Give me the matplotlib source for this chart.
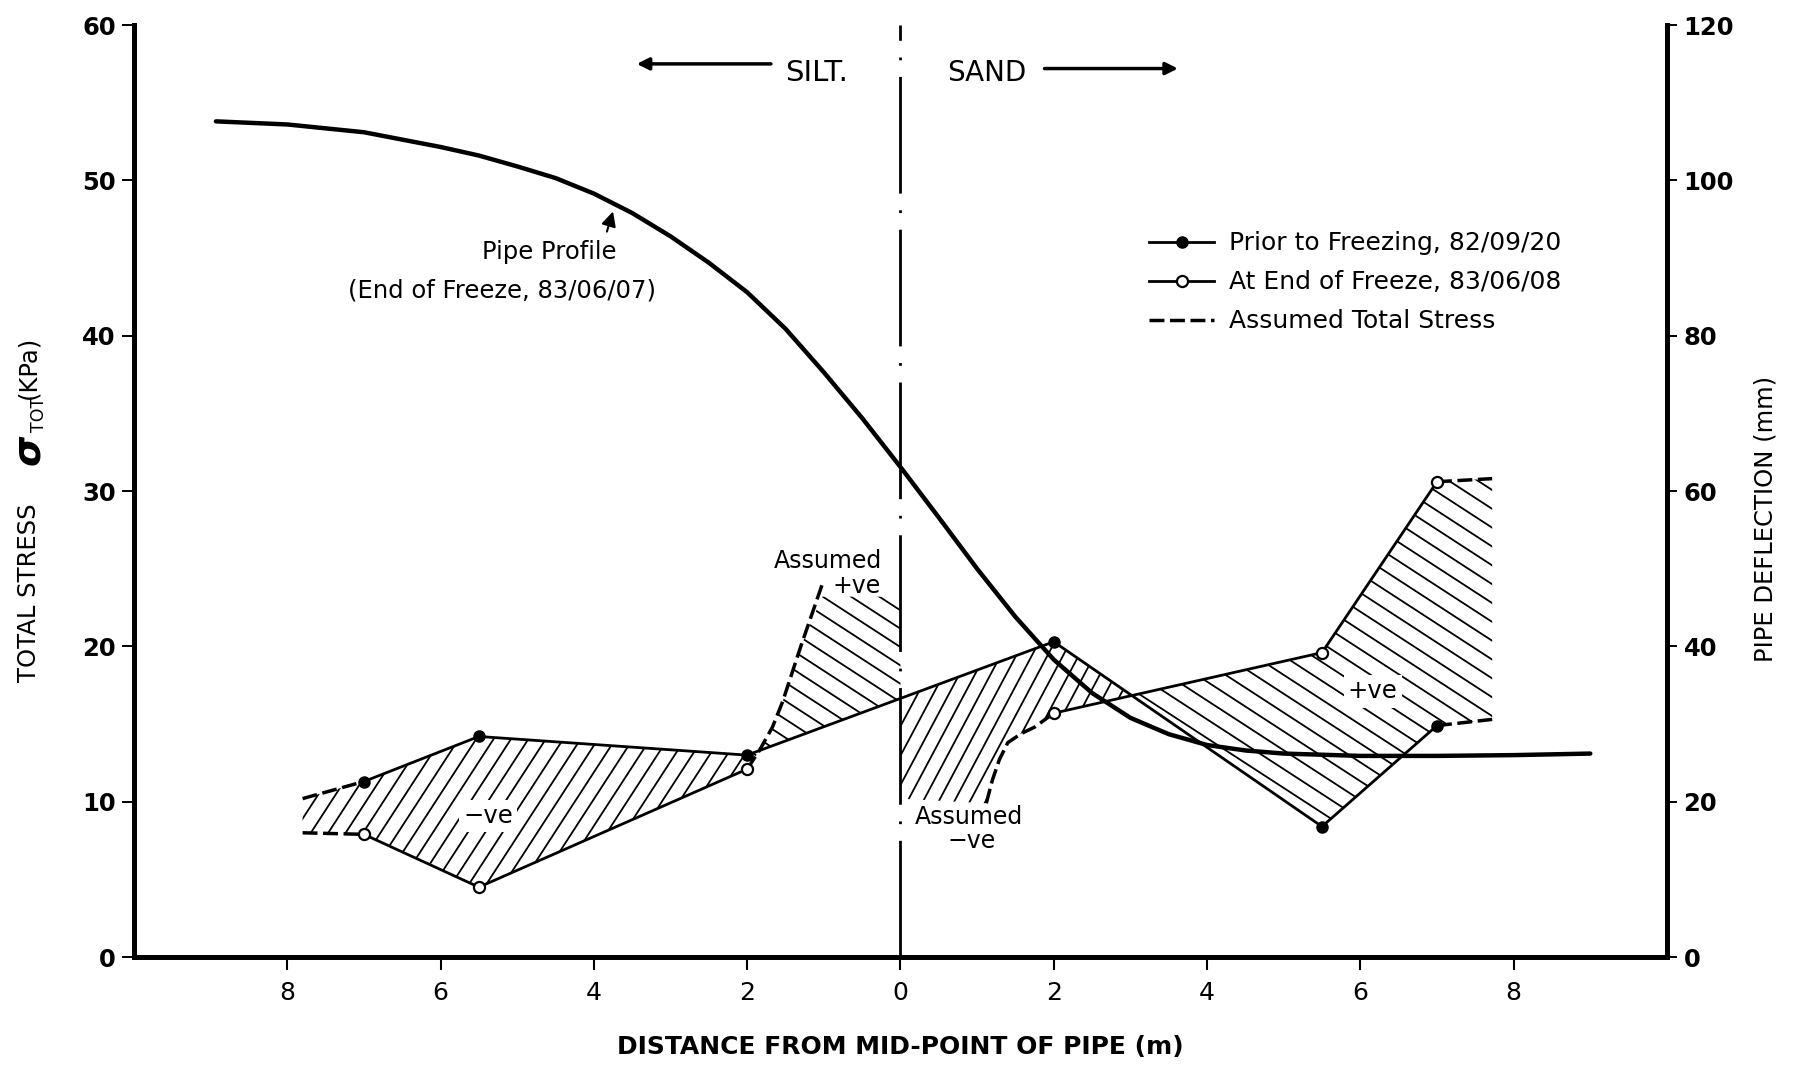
import numpy as np
import matplotlib
matplotlib.use("Agg")
import matplotlib.pyplot as plt
from matplotlib.collections import LineCollection

plt.rcParams["font.family"] = ["DejaVu Sans"]

# total stress (kPa) at distance from mid-point of pipe (m), silt side negative
dist = [-7.0, -5.5, -2.0, 2.0, 5.5, 7.0]
prior = [11.3, 14.2, 13.0, 20.3, 8.4, 14.9]
end_freeze = [7.9, 4.5, 12.1, 15.7, 19.6, 30.6]

# assumed total stress beyond the measured points
ext_left_x = [-7.8, -7.0]
ext_left_prior = [10.2, 11.3]
ext_left_end = [8.0, 7.9]
ext_right_x = [7.0, 7.72]
ext_right_prior = [14.9, 15.3]
ext_right_end = [30.6, 30.8]

# assumed stress at end of freeze on either side of the soil boundary
plus_x = [-2.0, -1.84, -1.67, -1.54, -1.3, -1.02]
plus_y = [12.1, 13.3, 14.8, 16.4, 20.0, 24.0]
plus_cap = 23.2
minus_x = [1.12, 1.2, 1.29, 1.4, 1.58, 1.75, 2.0]
minus_y = [9.9, 11.4, 12.7, 13.8, 14.4, 14.8, 15.7]
minus_floor = 10.2

# pipe profile at end of freeze: deflection (mm)
pipe_x = [-8.93, -8.0, -7.0, -6.0, -5.5, -5.0, -4.5, -4.0, -3.5, -3.0, -2.5,
          -2.0, -1.5, -1.0, -0.5, 0.0, 0.5, 1.0, 1.5, 2.0, 2.5, 3.0, 3.5,
          4.0, 4.5, 5.0, 6.0, 7.0, 8.0, 9.0]
pipe_defl = [107.6, 107.2, 106.2, 104.3, 103.2, 101.8, 100.3, 98.3, 95.8,
             92.8, 89.4, 85.6, 80.9, 75.3, 69.4, 63.1, 56.6, 50.0, 43.8, 38.3,
             34.0, 30.8, 28.7, 27.3, 26.6, 26.2, 25.9, 25.9, 26.0, 26.2]

xticks = [-8, -6, -4, -2, 0, 2, 4, 6, 8]

fig = plt.figure(figsize=(17.98, 10.66), dpi=100)
ax = fig.add_axes([0.0745, 0.1022, 0.8526, 0.8743])
ax.set_xlim(-10, 10)
ax.set_ylim(0, 60)
W = 0.8526 * 1798
H = 0.8743 * 1066


def hatch(xs, ys, angle, gap, lw=1.3):
    # parallel lines clipped to the polygon, spacing in pixels
    patch = ax.fill(xs, ys, fc="none", ec="none")[0]
    a = np.deg2rad(angle)
    d = np.array([np.cos(a), np.sin(a)])
    n = np.array([-np.sin(a), np.cos(a)])
    L = np.hypot(W, H)
    segs = []
    for c in np.arange(-L, L, gap):
        mid = np.array([W / 2, H / 2]) + c * n
        segs.append([(mid - L * d) / [W, H], (mid + L * d) / [W, H]])
    lc = LineCollection(segs, colors="k", linewidths=lw,
                        transform=ax.transAxes, zorder=1.5)
    ax.add_collection(lc, autolim=False)
    lc.set_clip_path(patch)


prior_at0 = np.interp(0, dist, prior)

# crossing of the two stress lines between 2 and 5.5 m
(x1, x2), (p1, p2), (e1, e2) = dist[3:5], prior[3:5], end_freeze[3:5]
t = (p1 - e1) / ((p1 - e1) - (p2 - e2))
xc, yc = x1 + t * (x2 - x1), p1 + t * (p2 - p1)

# -ve region, silt side
hatch(ext_left_x + dist[:3] + dist[2::-1] + ext_left_x[::-1],
      ext_left_prior + prior[:3] + end_freeze[2::-1] + ext_left_end[::-1],
      57, 14.6)
# assumed +ve, just left of centre
hatch(plus_x + [0, 0] + dist[2:3],
      plus_y[:-1] + [plus_cap, plus_cap, prior_at0] + prior[2:3],
      -33, 15.4)
# -ve region, sand side up to the crossing
hatch([0] + dist[3:4] + [xc] + dist[3:4] + minus_x[::-1] + [0],
      [prior_at0] + prior[3:4] + [yc] + end_freeze[3:4] + minus_y[::-1] + [minus_floor],
      62, 13.8)
# +ve region, sand side
hatch([xc] + dist[4:] + ext_right_x[1:] + ext_right_x[::-1][:1] + dist[:3:-1],
      [yc] + end_freeze[4:] + ext_right_end[1:] + ext_right_prior[::-1][:1] + prior[:3:-1],
      -33, 15.8)

dash = (0, (4.3, 1.6))
h_dash, = ax.plot(ext_left_x, ext_left_prior, color="k", lw=2.5, ls=dash, zorder=2)
ax.plot(ext_left_x, ext_left_end, color="k", lw=2.5, ls=dash, zorder=2)
ax.plot(ext_right_x, ext_right_prior, color="k", lw=2.5, ls=dash, zorder=2)
ax.plot(ext_right_x, ext_right_end, color="k", lw=2.5, ls=dash, zorder=2)
ax.plot(plus_x, plus_y, color="k", lw=2.5, ls=dash, zorder=2)
ax.plot(minus_x, minus_y, color="k", lw=2.5, ls=dash, zorder=2)

h_prior, = ax.plot(dist, prior, color="k", lw=2, marker="o", ms=8,
                   mfc="k", mec="k", zorder=3)
h_end, = ax.plot(dist[:3], end_freeze[:3], color="k", lw=2, marker="o", ms=8,
                 mfc="white", mec="k", mew=1.6, zorder=3)
ax.plot(dist[3:], end_freeze[3:], color="k", lw=2, marker="o", ms=8,
        mfc="white", mec="k", mew=1.6, zorder=3)

# silt / sand boundary
ax.axvline(0, color="k", lw=2, ls=(0, (42, 6, 1, 6)), zorder=2)

ax2 = ax.twinx()
ax2.set_ylim(0, 120)
ax2.plot(pipe_x, pipe_defl, color="k", lw=3.2, solid_joinstyle="round",
         solid_capstyle="round")

for a in (ax, ax2):
    a.spines["top"].set_visible(False)
ax.spines["right"].set_visible(False)
ax2.spines["left"].set_visible(False)
ax2.spines["bottom"].set_visible(False)
for s in ("left", "bottom"):
    ax.spines[s].set_linewidth(3.6)
ax2.spines["right"].set_linewidth(3.6)

ax.set_xticks(xticks)
ax.set_xticklabels([str(abs(v)) for v in xticks], fontsize=18)
ax.set_yticks(range(0, 61, 10))
ax2.set_yticks(range(0, 121, 20))
ax.tick_params(axis="x", direction="out", length=9, width=1.5, pad=8)
ax.tick_params(axis="y", direction="out", length=9, width=1.4, pad=4,
               labelsize=17.5)
ax2.tick_params(axis="y", direction="out", length=7, width=1.4, pad=5,
                labelsize=17.5)
for lab in ax.get_yticklabels() + ax2.get_yticklabels():
    lab.set_fontweight("bold")

ax.set_xlabel("DISTANCE FROM MID-POINT OF PIPE (m)", fontsize=18,
              fontweight="bold", labelpad=22)

fig.text(0.016, 0.36, "TOTAL STRESS", rotation=90, rotation_mode="anchor",
         ha="left", va="center", fontsize=17.5)
fig.text(0.0155, 0.578, "\u03c3", rotation=90, rotation_mode="anchor",
         ha="center", va="center", fontsize=28, fontweight="bold",
         fontstyle="italic")
fig.text(0.0215, 0.611, "TOT", rotation=90, rotation_mode="anchor",
         ha="center", va="center", fontsize=12.5)
fig.text(0.016, 0.685, "(KPa)", rotation=90, rotation_mode="anchor",
         ha="right", va="center", fontsize=17.5)
fig.text(0.982, 0.513, "PIPE DEFLECTION (mm)", rotation=90, ha="center",
         va="center", fontsize=17.5)

# soil labels with arrows
ax.annotate("", xy=(-3.44, 57.5), xytext=(-1.69, 57.5),
            arrowprops=dict(arrowstyle="-|>", color="k", lw=2.5,
                            mutation_scale=18, shrinkA=0, shrinkB=0))
ax.annotate("", xy=(3.62, 57.2), xytext=(1.88, 57.2),
            arrowprops=dict(arrowstyle="-|>", color="k", lw=2.5,
                            mutation_scale=18, shrinkA=0, shrinkB=0))
ax.text(-1.1, 56.9, "SILT.", ha="center", va="center", fontsize=21)
ax.text(1.12, 56.9, "SAND", ha="center", va="center", fontsize=20)

# pipe profile label
ax.annotate("", xy=(-3.75, 48.0), xytext=(-3.83, 46.7),
            arrowprops=dict(arrowstyle="-|>", color="k", lw=1.5,
                            mutation_scale=22, shrinkA=0, shrinkB=0))
ax.text(-4.58, 45.4, "Pipe Profile", ha="center", va="center", fontsize=17.5)
ax.text(-5.2, 42.9, "(End of Freeze, 83/06/07)", ha="center", va="center",
        fontsize=17.5)

ax.text(-0.94, 25.5, "Assumed", ha="center", va="center", fontsize=17)
ax.text(-0.57, 23.9, "+ve", ha="center", va="center", fontsize=17)
ax.text(0.90, 9.0, "Assumed", ha="center", va="center", fontsize=17)
ax.text(0.93, 7.5, "\u2212ve", ha="center", va="center", fontsize=17)

box = dict(facecolor="white", edgecolor="none", pad=3)
ax.text(-5.38, 9.1, "\u2212ve", ha="center", va="center", fontsize=17.5,
        bbox=box, zorder=2.5)
ax.text(6.16, 17.1, "+ve", ha="center", va="center", fontsize=17.5,
        bbox=box, zorder=2.5)

ax.legend([h_prior, h_end, h_dash],
          ["Prior to Freezing, 82/09/20", "At End of Freeze, 83/06/08",
           "Assumed Total Stress"],
          loc="upper left", bbox_to_anchor=(0.654, 0.792), frameon=False,
          fontsize=18, borderpad=0, handlelength=2.6, handletextpad=0.6,
          labelspacing=0.6, numpoints=1)

fig.savefig("out.png", dpi=100)
